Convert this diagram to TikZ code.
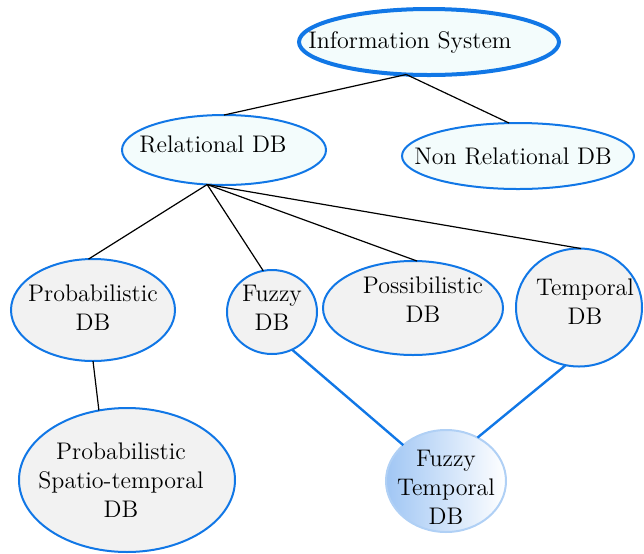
\documentclass[tikz,border=0pt]{standalone}
\usetikzlibrary{shapes.geometric}
\definecolor{bblue}{RGB}{17,119,230}
\definecolor{cyanfill}{RGB}{243,252,252}
\definecolor{greyfill}{RGB}{242,242,242}
\definecolor{ftborder}{RGB}{176,208,245}
\definecolor{ftleft}{RGB}{160,198,244}
\begin{document}
\begin{tikzpicture}[x=0.5pt,y=-0.5pt,
  ell/.style={ellipse, draw=bblue, line width=1pt, inner sep=0pt, outer sep=0pt},
  topell/.style={ell, fill=cyanfill},
  lowell/.style={ell, fill=greyfill},
  txt/.style={font=\fontsize{12}{14.5}\selectfont, align=center, inner sep=0pt, text=black},
  thin/.style={draw=black, line width=0.6pt},
  blueline/.style={draw=bblue, line width=1.2pt}]
\useasboundingbox (0,0) rectangle (644,553);
\node[topell, line width=2pt, minimum width=130pt, minimum height=33pt,
  label={[txt, xshift=-9.5pt]center:Information System}] (is) at (429,42) {};
\node[topell, minimum width=102pt, minimum height=35pt,
  label={[txt, xshift=-5.5pt, yshift=3pt]center:Relational DB}] (rdb) at (224,150) {};
\node[topell, minimum width=116pt, minimum height=33pt,
  label={[txt, xshift=-2.5pt]center:Non Relational DB}] (nrdb) at (518,156) {};
\node[lowell, minimum width=82pt, minimum height=51pt,
  label={[txt, yshift=1pt]center:Probabilistic\\DB}] (pdb) at (93,310) {};
\node[lowell, minimum width=45pt, minimum height=42pt,
  label={[txt, yshift=2pt]center:Fuzzy\\DB}] (fdb) at (272,312) {};
\node[lowell, minimum width=90pt, minimum height=47pt,
  label={[txt, xshift=5pt, yshift=4pt]center:Possibilistic\\DB}] (possdb) at (413,308) {};
\node[lowell, minimum width=63pt, minimum height=59pt,
  label={[txt, xshift=3pt, yshift=3pt]center:Temporal\\DB}] (tdb) at (579,307.5) {};
\node[lowell, minimum width=108pt, minimum height=72pt,
  label={[txt, xshift=-3pt]center:Probabilistic\\Spatio-temporal\\DB}] (pst) at (127,480) {};
\node[ell, draw=ftborder, left color=ftleft, right color=white, minimum width=60pt, minimum height=51pt,
  label={[txt, yshift=-3pt]center:Fuzzy\\Temporal\\DB}] (ft) at (446,481) {};
\draw[thin] (is.235) -- (rdb.north);
\draw[thin] (is.235) -- (nrdb.105);
\draw[thin] (rdb.244) -- (pdb.95);
\draw[thin] (rdb.244) -- (fdb.102);
\draw[thin] (rdb.244) -- (possdb.85);
\draw[thin] (rdb.244) -- (tdb.88);
\draw[thin] (pdb.south) -- (pst.112);
\draw[blueline] (fdb.298) -- (ft.140);
\draw[blueline] (tdb.257) -- (ft.54);
\end{tikzpicture}
\end{document}
